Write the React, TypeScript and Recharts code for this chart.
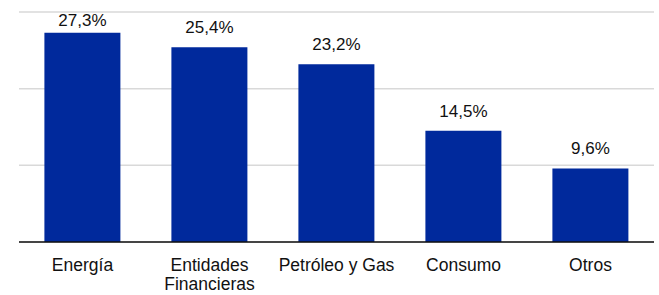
import { BarChart, Bar, XAxis, YAxis, CartesianGrid, LabelList } from 'recharts'

const categories = ['Energía', 'Entidades\nFinancieras', 'Petróleo y Gas', 'Consumo', 'Otros']
const weights = [27.3, 25.4, 23.2, 14.5, 9.6]
const yTicks = [0, 10, 20, 30]

const data = categories.map((name, i) => ({ name, value: weights[i] }))

const FONT = '"Liberation Sans", Arial, sans-serif'

function CategoryTick({ x, y, payload }: any) {
  const lines = String(payload.value).split('\n')
  return (
    <text x={x} y={y + 21} textAnchor="middle" fontFamily={FONT} fontSize={17.5} fill="#111">
      {lines.map((l, i) => (
        <tspan key={i} x={x} dy={i === 0 ? 0 : 18.5}>{l}</tspan>
      ))}
    </text>
  )
}

// value label sits ~14px above the bar, but never above the plot top
function ValueLabel({ x, y, width, value }: any) {
  const baseline = Math.max(y - 14, 26)
  return (
    <text x={x + width / 2} y={baseline} textAnchor="middle" fontFamily={FONT} fontSize={17} fill="#111">
      {`${String(value).replace('.', ',')}%`}
    </text>
  )
}

export default function App() {
  return (
    <div style={{ position: 'absolute', left: 0, top: 0, background: '#fff' }}>
      <BarChart
        width={659}
        height={295}
        data={data}
        margin={{ top: 12, right: 5, bottom: 0, left: 19 }}
        barCategoryGap="20%"
      >
        <CartesianGrid vertical={false} stroke="#d9d9d9" strokeWidth={1.5} />
        <YAxis hide domain={[0, 30]} ticks={yTicks} />
        <XAxis
          dataKey="name"
          height={53}
          axisLine={{ stroke: '#111', strokeWidth: 1.5 }}
          tickLine={false}
          tick={<CategoryTick />}
          interval={0}
        />
        <Bar dataKey="value" fill="#00299c" isAnimationActive={false}>
          <LabelList dataKey="value" content={<ValueLabel />} />
        </Bar>
      </BarChart>
    </div>
  )
}
